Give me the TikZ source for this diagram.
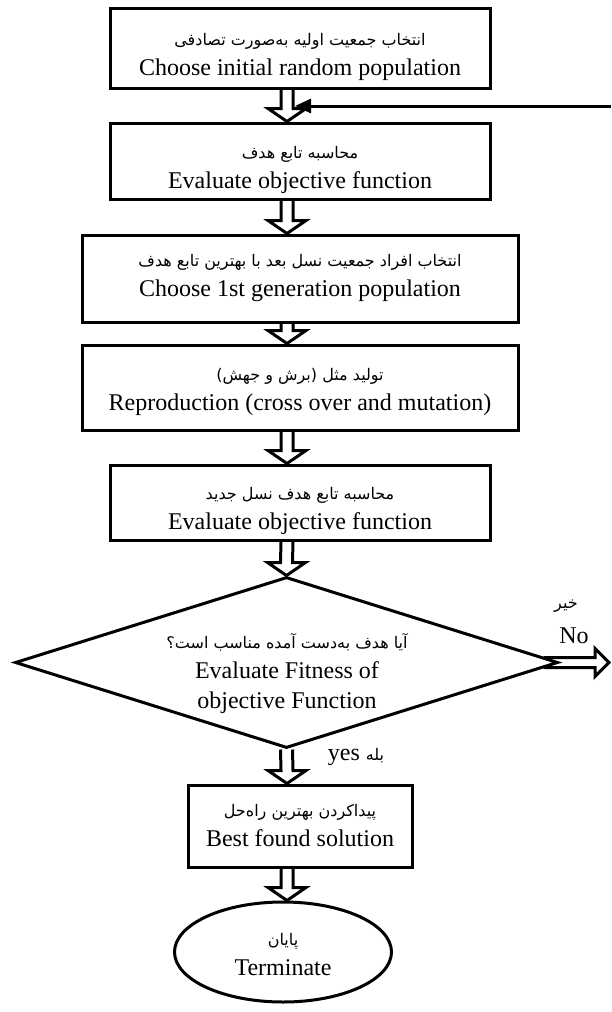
\documentclass[tikz,border=0pt]{standalone}
\usepackage{fontspec}
\setmainfont{Liberation Serif}
\newfontfamily\fa[Script=Arabic]{DejaVu Sans}
\TeXXeTstate=1
\usetikzlibrary{shapes.geometric,arrows.meta,calc}

\newcommand{\pers}[1]{{\fa\fontsize{8}{10}\selectfont\beginR #1\endR}}
% hollow block arrow pointing down, from #1 to its tip #2
\newcommand{\fatdown}[2]{%
  \draw[fat] ($(#1)+(-6,0)$) -- ($(#2)+(-6,-13)$) -- ($(#2)+(-19,-13)$) -- (#2)
    -- ($(#2)+(19,-13)$) -- ($(#2)+(6,-13)$) -- ($(#1)+(6,0)$);}

\tikzset{
  box/.style={draw, line width=1.5pt, align=center, inner sep=2pt,
    font=\fontsize{12}{15}\selectfont},
  fat/.style={line width=1.5pt},
}

\begin{document}
\begin{tikzpicture}[x=0.5pt, y=-0.5pt]
    \useasboundingbox (0,0) rectangle (611,1012);
    \coordinate (axis) at (287,0);

    \node[box, minimum width=190pt, minimum height=40pt] (init) at (300,48)
        {\rule{0pt}{15pt}\pers{انتخاب جمعیت اولیه به^^^^200cصورت تصادفی}\\Choose initial random population};
    \node[box, minimum width=190pt, minimum height=38pt] (eval) at (300,161)
        {\rule{0pt}{15pt}\pers{محاسبه تابع هدف}\\Evaluate objective function};
    \node[box, minimum width=218pt, minimum height=43.5pt] (select) at (300,278.5)
        {\pers{انتخاب افراد جمعیت نسل بعد با بهترین تابع هدف}\\Choose 1st generation population};
    \node[box, minimum width=218pt, minimum height=42.5pt] (repro) at (300,387.5)
        {\rule{0pt}{11pt}\pers{تولید مثل (برش و جهش)}\\Reproduction (cross over and mutation)};
    \node[box, minimum width=190pt, minimum height=37.5pt] (evalnew) at (300,502.5)
        {\rule{0pt}{15pt}\pers{محاسبه تابع هدف نسل جدید}\\Evaluate objective function};
    \node[box, diamond, inner sep=0pt, minimum width=271.5pt, minimum height=85.5pt] (fit) at (286.5,662.5) {};
    \node[align=center, font=\fontsize{12}{15}\selectfont] (fittext) at (287,674)
        {\pers{آیا هدف به^^^^200cدست آمده مناسب است؟}\\Evaluate Fitness of\\objective Function};
    \node[box, minimum width=112pt, minimum height=41pt] (best) at (300,826)
        {\pers{پیداکردن بهترین راه^^^^200cحل}\\Best found solution};
    \node[box, ellipse, minimum width=108.5pt, minimum height=50pt] (stop) at (283,952)
        {\rule{0pt}{9pt}\pers{پایان}\\Terminate};

    \fatdown{init.south -| axis}{eval.north -| axis}
    \fatdown{eval.south -| axis}{select.north -| axis}
    \fatdown{select.south -| axis}{repro.north -| axis}
    \fatdown{repro.south -| axis}{evalnew.north -| axis}
    \fatdown{evalnew.south -| axis}{fit.north}
    \fatdown{fit.south}{best.north -| axis}
    \fatdown{best.south -| axis}{stop.north -| axis}

    % no branch
    \coordinate (noend) at (609,662.5);
    \draw[fat] ($(fit.east)+(-16,-5)$) -- ($(noend)+(-14,-5)$) -- ($(noend)+(-14,-14)$) -- (noend)
        -- ($(noend)+(-14,14)$) -- ($(noend)+(-14,5)$) -- ($(fit.east)+(-16,5)$);
    \node[font=\fontsize{12}{15}\selectfont] (nolabel) at (574,636) {No};
    \node (nofa) at (566,606) {\pers{خیر}};
    \node[font=\fontsize{12}{15}\selectfont] (yeslabel) at (356,757) {yes {\fa\fontsize{8}{10}\selectfont بله}};

    % loop back
    \coordinate (back) at (611,106);
    \draw[line width=1.5pt, -{Triangle[length=8pt, width=7pt]}] (back) -- ($(back -| axis)+(8,0)$);
\end{tikzpicture}
\end{document}
